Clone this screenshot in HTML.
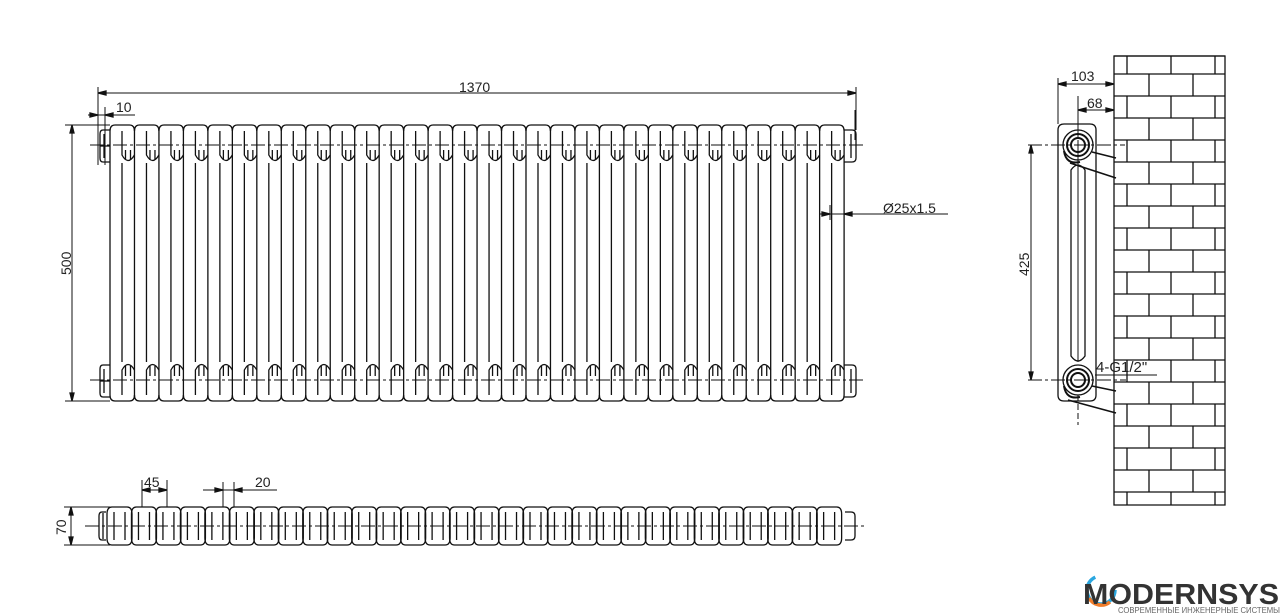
<!DOCTYPE html>
<html><head><meta charset="utf-8"><style>
html,body{margin:0;padding:0;background:#fff;}
svg{display:block;}
text{font-family:"Liberation Sans",sans-serif;fill:#222;}
</style></head><body>
<svg id="s" width="1280" height="614" viewBox="0 0 1280 614" xmlns="http://www.w3.org/2000/svg" stroke="#111" fill="none" stroke-width="1.3">
<g id="g"></g>
<text x="459" y="92" font-size="14" stroke="none">1370</text>
<text x="116" y="112" font-size="14" stroke="none">10</text>
<text x="71" y="275" font-size="14" stroke="none" transform="rotate(-90 71 275)">500</text>
<text x="883" y="213" font-size="14" stroke="none" font-family="Liberation Mono">&#216;25x1.5</text>
<text x="144" y="487" font-size="14" stroke="none">45</text>
<text x="255" y="487" font-size="14" stroke="none">20</text>
<text x="66" y="535" font-size="14" stroke="none" transform="rotate(-90 66 535)">70</text>
<text x="1071" y="81" font-size="14" stroke="none">103</text>
<text x="1087" y="108" font-size="14" stroke="none">68</text>
<text x="1029" y="276" font-size="14" stroke="none" transform="rotate(-90 1029 276)">425</text>
<text x="1096" y="372" font-size="15" stroke="none" font-family="Liberation Serif">4-G1/2"</text>
<circle cx="1101" cy="590" r="14" stroke="#2aa7e0" stroke-width="3.5" stroke-dasharray="60 30"/>
<path d="M1089 598 A14 14 0 0 0 1110 602" stroke="#f07c2a" stroke-width="3.5"/>
<text x="1083" y="604" font-size="29" font-weight="bold" stroke="none" style="fill:#333" textLength="196" lengthAdjust="spacingAndGlyphs">MODERNSYS</text>
<text x="1118" y="613" font-size="8" stroke="none" style="fill:#666" textLength="162" lengthAdjust="spacingAndGlyphs">СОВРЕМЕННЫЕ ИНЖЕНЕРНЫЕ СИСТЕМЫ</text>
</svg>
<script>
var g=document.getElementById('g'),o='';
function L(a,b,c,d,ex){o+='<line x1="'+a+'" y1="'+b+'" x2="'+c+'" y2="'+d+'"'+(ex||'')+'/>';}
function P(d,ex){o+='<path d="'+d+'"'+(ex||'')+'/>';}
function arr(x,y,dir,v){
 if(!v)P('M'+x+' '+y+' l'+(-8*dir)+' -2 l0 4 z',' fill="#111"');
 else P('M'+x+' '+y+' l-2 '+(-8*dir)+' l4 0 z',' fill="#111"');}
var N=30,p=24.47,X=110;
for(var i=0;i<N;i++){
 var x=X+i*p;
 L(x,131,x,395);L(x+12,163,x+12,362);
 P('M'+x+' 131 Q'+x+' 125 '+(x+5)+' 125 L'+(x+p-5)+' 125 Q'+(x+p)+' 125 '+(x+p)+' 131');
 P('M'+x+' 395 Q'+x+' 401 '+(x+5)+' 401 L'+(x+p-5)+' 401 Q'+(x+p)+' 401 '+(x+p)+' 395');
 P('M'+(x+12)+' 131 L'+(x+12)+' 155 Q'+(x+18)+' 166 '+(x+p)+' 155');
 P('M'+(x+12)+' 395 L'+(x+12)+' 370 Q'+(x+18)+' 359 '+(x+p)+' 370');
 L(x+15.5,150,x+15.5,160);L(x+20.5,150,x+20.5,160);
 L(x+15.5,366,x+15.5,376);L(x+20.5,366,x+20.5,376);
 P('M'+(x+2)+' 507 L'+(x+17)+' 507 Q'+(x+22)+' 507 '+(x+22)+' 514 L'+(x+22)+' 538 Q'+(x+22)+' 545 '+(x+17)+' 545 L'+(x+2)+' 545 Q'+(x-3)+' 545 '+(x-3)+' 538 L'+(x-3)+' 514 Q'+(x-3)+' 507 '+(x+2)+' 507');
 L(x+4,512,x+4,540);L(x+15,512,x+15,540);
}
L(X+N*p,131,X+N*p,395);
P('M110 130 L103 130 Q100 130 100 134 L100 158 Q100 162 103 162 L110 162');L(104,134,104,158);L(100,146,110,146);
P('M110 365 L103 365 Q100 365 100 369 L100 393 Q100 397 103 397 L110 397');L(104,369,104,393);L(100,381,110,381);
P('M844 130 L852 130 Q856 130 856 134 L856 158 Q856 162 852 162 L844 162');L(851,134,851,158);
P('M844 365 L852 365 Q856 365 856 369 L856 393 Q856 397 852 397 L844 397');L(851,369,851,393);
P('M106 512 L102 512 Q99 512 99 516 L99 536 Q99 540 102 540 L106 540');L(103,513,103,539);
P('M845 512 L851 512 Q855 512 855 516 L855 536 Q855 540 851 540 L845 540');
var dash=' stroke-dasharray="14 3 3 3" stroke-width="1"';
L(90,145,866,145,dash);L(90,380,866,380,dash);L(85,526,866,526,dash);
L(98,87,98,165,' stroke-width="1"');L(856,87,856,130,' stroke-width="1"');L(98,93,856,93,' stroke-width="1"');arr(98,93,-1);arr(856,93,1);
L(105,107,105,165,' stroke-width="1"');L(88,115,135,115,' stroke-width="1"');arr(98,115,1);arr(105,115,-1);
L(65,125,110,125,' stroke-width="1"');L(65,401,110,401,' stroke-width="1"');L(72,125,72,401,' stroke-width="1"');arr(72,125,-1,1);arr(72,401,1,1);
L(820,214,948,214,' stroke-width="1"');L(830,205,830,220,' stroke-width="1"');L(844,205,844,220,' stroke-width="1"');arr(830,214,1);arr(844,214,-1);
L(855,110,855,140,' stroke-width="1"');
L(142,480,142,507,' stroke-width="1"');L(167,480,167,507,' stroke-width="1"');L(142,490,167,490,' stroke-width="1"');arr(142,490,-1);arr(167,490,1);
L(223,482,223,507,' stroke-width="1"');L(234,482,234,507,' stroke-width="1"');L(203,490,277,490,' stroke-width="1"');arr(223,490,1);arr(234,490,-1);
L(64,507,110,507,' stroke-width="1"');L(64,545,110,545,' stroke-width="1"');L(71,507,71,545,' stroke-width="1"');arr(71,507,-1,1);arr(71,545,1,1);
P('M1114 56 L1225 56 L1225 505 L1114 505 Z');
var ys=[56,74];for(var y=96;y<494;y+=22)ys.push(y);ys.push(505);
for(var k=0;k<ys.length-1;k++){L(1114,ys[k],1225,ys[k]);
 var xs=(k%2==0)?[1127,1171,1215]:[1149,1193];xs.forEach(function(v){L(v,ys[k],v,ys[k+1]);});}
P('M1064 124 L1090 124 Q1096 124 1096 130 L1096 395 Q1096 401 1090 401 L1064 401 Q1058 401 1058 395 L1058 130 Q1058 124 1064 124 Z');
P('M1071 170 Q1078 160 1085 170 L1085 356 Q1078 366 1071 356 Z');L(1078,140,1078,362,' stroke-width="1"');
[145,380].forEach(function(c){
 o+='<circle cx="1078" cy="'+c+'" r="15"/><circle cx="1078" cy="'+c+'" r="11" stroke-width="2"/><circle cx="1078" cy="'+c+'" r="7" stroke-width="2"/>';
 P('M1064 '+(c+6)+' Q1066 '+(c+20)+' 1080 '+(c+17),' stroke-width="2"');});
L(1092,152,1116,158,' stroke-width="1.6"');L(1070,163,1116,178,' stroke-width="1.6"');
L(1092,386,1116,391,' stroke-width="1.6"');L(1068,400,1116,413,' stroke-width="1.6"');
L(1078,128,1078,137,' stroke-width="1"');L(1078,395,1078,425,' stroke-dasharray="6 3" stroke-width="1"');
L(1028,145,1125,145,' stroke-dasharray="14 3 3 3" stroke-width="1"');L(1028,380,1126,380,' stroke-dasharray="14 3 3 3" stroke-width="1"');
L(1031,145,1031,380,' stroke-width="1"');arr(1031,145,-1,1);arr(1031,380,1,1);
L(1095,375,1157,375,' stroke-width="1"');
L(1058,78,1058,124,' stroke-width="1"');L(1058,84,1114,84,' stroke-width="1"');arr(1058,84,-1);arr(1114,84,1);
L(1078,96,1078,128,' stroke-width="1"');L(1078,110,1114,110,' stroke-width="1"');arr(1078,110,-1);arr(1114,110,1);
g.innerHTML=o;
</script>
</body></html>
